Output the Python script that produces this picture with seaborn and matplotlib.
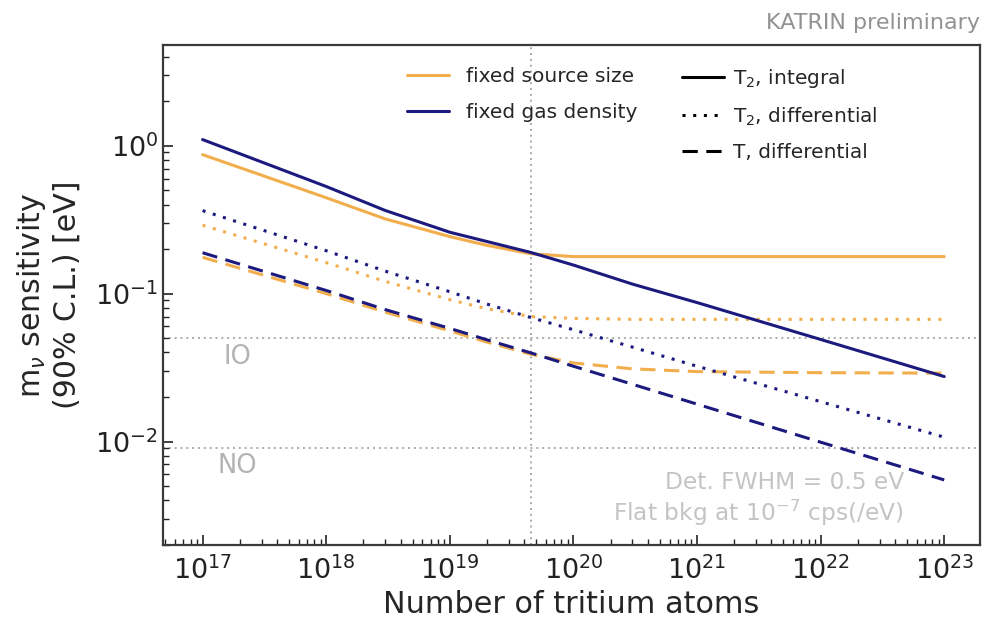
import numpy as np
import pandas as pd
import matplotlib
matplotlib.use("Agg")
import matplotlib.pyplot as plt
import seaborn as sns
from matplotlib.lines import Line2D

# ---- data ----
n_atoms = [1e17, 1e18, 3e18, 1e19, 2e19, 4.5e19, 1e20, 3e20, 1e21, 1e22, 1e23]

size_T2_integral = [0.87, 0.445, 0.32, 0.243, 0.212, 0.186, 0.178, 0.178, 0.178, 0.178, 0.178]
size_T2_diff = [0.29, 0.162, 0.121, 0.091, 0.079, 0.070, 0.068, 0.067, 0.067, 0.067, 0.067]
size_T_diff = [0.176, 0.100, 0.075, 0.056, 0.047, 0.039, 0.034, 0.031, 0.0297, 0.0292, 0.029]

dens_T2_integral = [1.10, 0.53, 0.365, 0.26, 0.225, 0.19, 0.156, 0.116, 0.087, 0.049, 0.0275]
dens_T2_diff = [0.364, 0.195, 0.142, 0.103, 0.085, 0.069, 0.057, 0.0435, 0.0323, 0.0186, 0.0107]
dens_T_diff = [0.189, 0.105, 0.078, 0.0582, 0.0487, 0.0398, 0.0323, 0.0244, 0.0179, 0.0099, 0.0055]

configs = ["fixed source size", "fixed gas density"]
methods = ["T$_2$, integral", "T$_2$, differential", "T, differential"]

x_ticks = [1e17, 1e18, 1e19, 1e20, 1e21, 1e22, 1e23]
y_ticks = [1e-2, 1e-1, 1e0]

io_limit = 0.05
no_limit = 0.009
design_atoms = 4.5e19

series = {
    (configs[0], methods[0]): size_T2_integral,
    (configs[0], methods[1]): size_T2_diff,
    (configs[0], methods[2]): size_T_diff,
    (configs[1], methods[0]): dens_T2_integral,
    (configs[1], methods[1]): dens_T2_diff,
    (configs[1], methods[2]): dens_T_diff,
}
rows = []
for (c, m), vals in series.items():
    for x, y in zip(n_atoms, vals):
        rows.append({"N": x, "sens": y, "config": c, "method": m})
df = pd.DataFrame(rows)

# ---- style ----
sns.set_theme(style="white")
plt.rcParams["font.family"] = ["DejaVu Sans"]
plt.rcParams["mathtext.fontset"] = "dejavusans"

orange = "#f2ae4c"
navy = "#1c1a7e"
palette = {configs[0]: orange, configs[1]: navy}
dashes = {methods[0]: "", methods[1]: (1, 2.5), methods[2]: (5, 2.8)}

fig = plt.figure(figsize=(9.85, 6.18), dpi=100)
ax = fig.add_axes([0.1655, 0.118, 0.8295, 0.809])

for c in configs:
    sub = df[df["config"] == c]
    sns.lineplot(data=sub, x="N", y="sens", style="method", style_order=methods,
                 dashes=dashes, color=palette[c], linewidth=2.2, estimator=None,
                 sort=False, legend=False, ax=ax)

ax.set_xscale("log")
ax.set_yscale("log")
ax.set_xticks(x_ticks)
ax.set_yticks(y_ticks)
ax.xaxis.set_minor_locator(matplotlib.ticker.LogLocator(base=10, subs=np.arange(2, 10), numticks=20))
ax.yaxis.set_minor_locator(matplotlib.ticker.LogLocator(base=10, subs=np.arange(2, 10), numticks=20))
ax.xaxis.set_minor_formatter(matplotlib.ticker.NullFormatter())
ax.yaxis.set_minor_formatter(matplotlib.ticker.NullFormatter())
ax.set_xlim(10 ** 16.68, 10 ** 23.29)
ax.set_ylim(10 ** -2.70, 10 ** 0.68)

ref_kw = dict(color="#aaaaaa", linestyle=(0, (1, 2)), linewidth=1.4, zorder=0)
ax.axhline(io_limit, **ref_kw)
ax.axhline(no_limit, **ref_kw)
ax.axvline(design_atoms, **ref_kw)

ax.text(10 ** 17.28, 0.0375, "IO", color="#b3b3b3", fontsize=18.5, ha="center", va="center")
ax.text(10 ** 17.28, 0.0068, "NO", color="#b3b3b3", fontsize=18.5, ha="center", va="center")
ax.text(0.907, 0.091, "Det. FWHM = 0.5 eV\nFlat bkg at 10$^{-7}$ cps(/eV)",
        transform=ax.transAxes, color="#c4c4c4", fontsize=16.8, ha="right", va="center",
        multialignment="right", linespacing=1.15)

ax.set_xlabel("Number of tritium atoms", fontsize=21.8, labelpad=4)
ax.set_ylabel("m$_\\nu$ sensitivity\n(90% C.L.) [eV]", fontsize=21.6, labelpad=10)
ax.tick_params(axis="both", which="major", direction="in", length=7, width=1.2,
               labelsize=19.5, top=False, right=False, bottom=True, left=True, colors="#222222")
ax.tick_params(axis="x", which="major", pad=8)
ax.tick_params(axis="both", which="minor", direction="in", length=4, width=1.0,
               top=False, right=False, bottom=True, left=True, colors="#222222")

for s in ax.spines.values():
    s.set_color("#3a3a3a")
    s.set_linewidth(1.6)

fig.text(0.995, 0.963, "KATRIN preliminary", color="#929292", fontsize=16, ha="right", va="center")

h1 = [Line2D([], [], color=palette[c], lw=2.2) for c in configs]
leg1 = ax.legend(h1, configs, loc="upper left", bbox_to_anchor=(0.289, 0.972), frameon=False,
                 fontsize=14.5, handlelength=2.1, handletextpad=0.8, labelspacing=0.85,
                 borderaxespad=0)
ax.add_artist(leg1)
h2 = [Line2D([], [], color="black", lw=2.2, linestyle="-"),
      Line2D([], [], color="black", lw=2.2, linestyle=(0, dashes[methods[1]])),
      Line2D([], [], color="black", lw=2.2, linestyle=(0, dashes[methods[2]]))]
ax.legend(h2, methods, loc="upper left", bbox_to_anchor=(0.625, 0.972), frameon=False,
          fontsize=14.5, handlelength=2.1, handletextpad=0.45, labelspacing=0.75,
          borderaxespad=0)

fig.savefig("out.png", dpi=100)
